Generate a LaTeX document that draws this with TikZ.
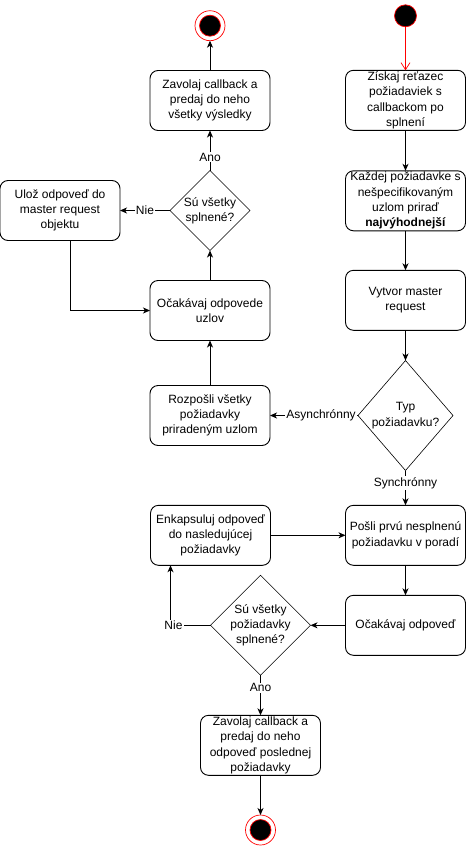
\documentclass[tikz,border=0pt]{standalone}
\usepackage{fontspec}
\setmainfont{Liberation Sans}
\usetikzlibrary{shapes.geometric, arrows.meta, positioning, calc}

\begin{document}
\begin{tikzpicture}[
        x=1pt, y=-1pt,
        font=\fontsize{12}{15.3}\selectfont,
        box/.style={rectangle, draw, rounded corners=8pt, line width=0.9pt, minimum width=120pt, minimum height=60pt, inner sep=0pt, outer sep=0pt, align=center},
        decision/.style={diamond, draw, line width=0.6pt, inner sep=-1.5pt, outer sep=0pt, align=center},
        initial/.style={circle, draw=red, fill=black, line width=0.7pt, minimum size=22pt, inner sep=0pt, outer sep=0pt},
        final/.style={circle, draw=red, fill=white, line width=0.7pt, minimum size=30pt, inner sep=0pt, outer sep=0pt,
            path picture={\filldraw[fill=black, draw=red, line width=0.7pt] (path picture bounding box.center) circle (10.5pt);}},
        arrow/.style={-{Stealth[length=7pt, width=6pt, inset=2pt]}, line width=0.9pt},
        startarrow/.style={-{Straight Barb[length=7pt, width=9pt]}, draw=red, line width=0.7pt},
        lbl/.style={fill=white, inner sep=1pt}
    ]

    \useasboundingbox (0,0) rectangle (467,849);

    \node (get) [box] at (405.5,100.3) {Získaj reťazec\\požiadaviek s\\callbackom po\\splnení};
    \node (init) [initial, above=43.5pt of get] {};
    \node (assign) [box, below=40.5pt of get] {Každej požiadavke s\\nešpecifikovaným\\uzlom priraď\\\textbf{najvýhodnejší}};
    \node (master) [box, below=39.5pt of assign] {Vytvor master\\request};
    \node (typ) [decision, minimum width=95pt, minimum height=110pt, aspect=0.86, below=30.2pt of master] {Typ\\požiadavku?};
    \node (spread) [box, left=88pt of typ] {Rozpošli všetky\\požiadavky\\priradeným uzlom};
    \node (waitall) [box, above=45pt of spread] {Očakávaj odpovede\\uzlov};
    \node (alldone) [decision, minimum width=80pt, minimum height=80pt, above=30pt of waitall] {Sú všetky\\splnené?};
    \node (report) [box, above=40pt of alldone] {Zavolaj callback a\\predaj do neho\\všetky výsledky};
    \node (stopa) [final, above=29.8pt of report] {};
    \node (store) [box, left=50pt of alldone] {Ulož odpoveď do\\master request\\objektu};
    \node (send) [box, below=34.8pt of typ] {Pošli prvú nesplnenú\\požiadavku v poradí};
    \node (wrap) [box, left=75pt of send] {Enkapsuluj odpoveď\\do nasledujúcej\\požiadavky};
    \node (waitone) [box, below=30pt of send] {Očakávaj odpoveď};
    \node (check) [decision, minimum width=100pt, minimum height=100pt, left=35pt of waitone] {Sú všetky\\požiadavky\\splnené?};
    \node (finish) [box, below=40pt of check] {Zavolaj callback a\\predaj do neho\\odpoveď poslednej\\požiadavky};
    \node (stopb) [final, below=39.7pt of finish] {};

    \draw[startarrow] (init) -- (get);
    \draw[arrow] (get) -- (assign);
    \draw[arrow] (assign) -- (master);
    \draw[arrow] (master) -- (typ);
    \draw[arrow] (typ) -- node[lbl, pos=0.42] {Asynchrónny} (spread);
    \draw[arrow] (spread) -- (waitall);
    \draw[arrow] (waitall) -- (alldone);
    \draw[arrow] (alldone) -- node[lbl, pos=0.33] {Ano} (report);
    \draw[arrow] (report) -- (stopa);
    \draw[arrow] (alldone) -- node[lbl] {Nie} (store);
    \draw[arrow] ([xshift=10pt]store.south) |- (waitall);
    \draw[arrow] (typ) -- node[lbl, pos=0.36] {Synchrónny} (send);
    \draw[arrow] (send) -- (waitone);
    \draw[arrow] (waitone) -- (check);
    \draw[arrow] (check) -| node[lbl, pos=0.5, xshift=3pt] {Nie} ([xshift=20pt]wrap.south west);
    \draw[arrow] (wrap) -- (send);
    \draw[arrow] (check) -- node[lbl, pos=0.31] {Ano} (finish);
    \draw[arrow] (finish) -- (stopb);

\end{tikzpicture}
\end{document}
